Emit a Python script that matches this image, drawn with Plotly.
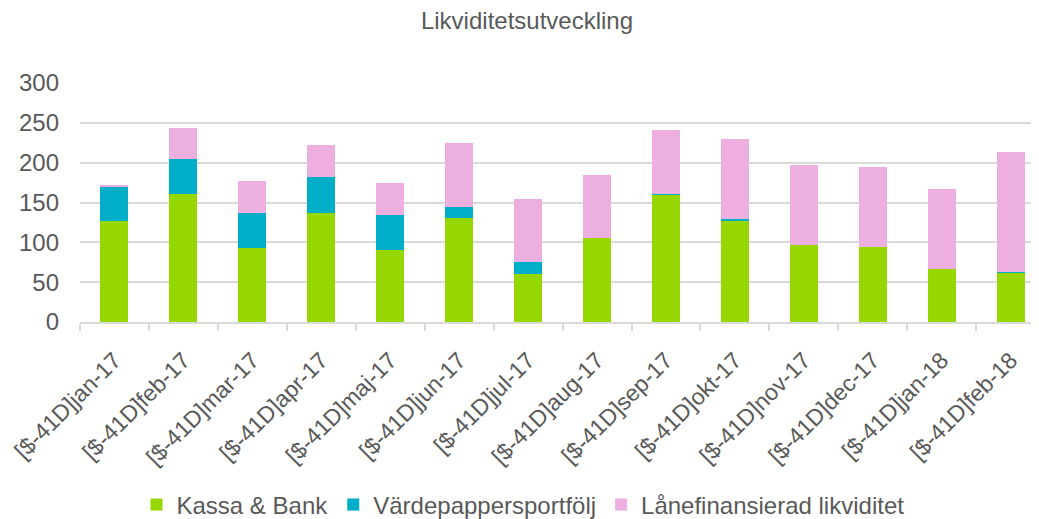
import plotly.graph_objects as go

categories = ["[$-41D]jan-17", "[$-41D]feb-17", "[$-41D]mar-17", "[$-41D]apr-17",
              "[$-41D]maj-17", "[$-41D]jun-17", "[$-41D]jul-17", "[$-41D]aug-17",
              "[$-41D]sep-17", "[$-41D]okt-17", "[$-41D]nov-17", "[$-41D]dec-17",
              "[$-41D]jan-18", "[$-41D]feb-18"]
kassa_bank = [127, 161, 93, 137, 91, 130, 60, 105, 160, 128, 97, 94, 67, 62]
vardepapper = [43.5, 43, 44, 45, 43, 14.5, 15, 0, 1.2, 1.3, 0, 0, 0, 1.2]
lanefinansierad = [1.3, 40, 40, 40, 40, 80, 80, 80, 80, 100, 100, 100, 100, 150]
y_ticks = [0, 50, 100, 150, 200, 250, 300]

FONT = "Liberation Sans, Arial, sans-serif"
TXT = "#595959"
GRID = "#d9d9d9"

# the page body adds an 8px margin, so the figure is sized to fit the 1039x519 window
W, H = 1031, 511

fig = go.Figure()
fig.add_trace(go.Bar(x=categories, y=kassa_bank, name="Kassa & Bank", marker_color="#97D700", marker_line_width=0))
fig.add_trace(go.Bar(x=categories, y=vardepapper, name="Värdepappersportfölj", marker_color="#00AEC7", marker_line_width=0))
fig.add_trace(go.Bar(x=categories, y=lanefinansierad, name="Lånefinansierad likviditet", marker_color="#EDAFE0", marker_line_width=0))

fig.update_layout(
    width=W, height=H,
    barmode="stack", bargap=0.594,
    paper_bgcolor="white", plot_bgcolor="white",
    margin=dict(l=72, r=0, t=75, b=197, autoexpand=False),
    font=dict(family=FONT, color=TXT),
    title=dict(text="Likviditetsutveckling", x=519 / W, xref="container", xanchor="center",
               y=1 - 13 / H, yanchor="middle", yref="container",
               font=dict(size=24, color=TXT, family=FONT)),
    xaxis=dict(range=[-0.5, 13.41], tickangle=-45, tickfont=dict(size=23, color=TXT),
               automargin=False,
               showline=True, linecolor=GRID, linewidth=1.5,
               ticks="outside", tickson="boundaries", ticklen=7, tickcolor=GRID, tickwidth=1.5,
               ticklabelstandoff=14, showgrid=False),
    yaxis=dict(range=[0, 300], tickvals=y_ticks, tickfont=dict(size=24, color=TXT),
               automargin=False,
               showgrid=True, gridcolor=GRID, gridwidth=1.5, zeroline=False,
               showline=False, ticks="", ticklabelstandoff=20),
    legend=dict(orientation="h", x=515 / W, xref="container", xanchor="center",
                y=(H - 497) / H, yanchor="middle", yref="container",
                font=dict(size=24, color=TXT), itemwidth=30, traceorder="normal"),
    showlegend=True,
)

fig.write_html("out.html")
